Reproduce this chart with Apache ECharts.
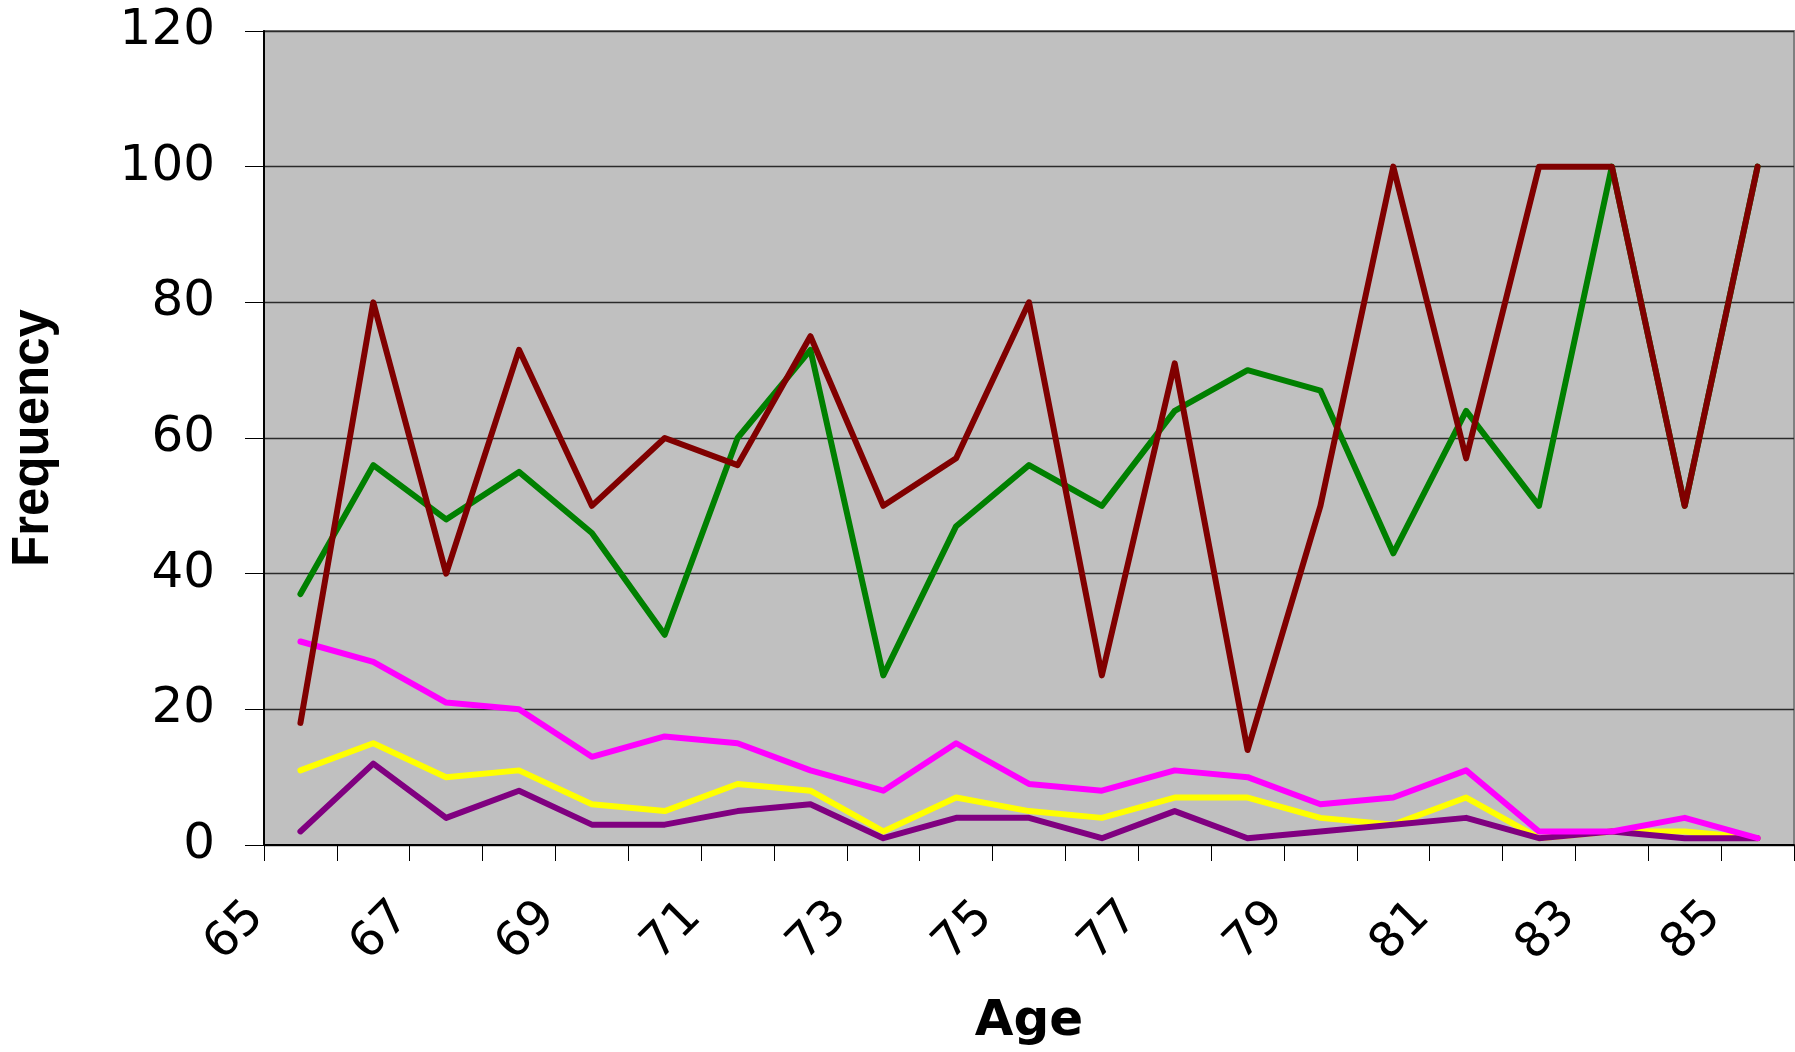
<!DOCTYPE html>
<html>
<head>
<meta charset="utf-8">
<script src="https://cdn.jsdelivr.net/npm/echarts@6/dist/echarts.min.js"></script>
<style>
html,body{margin:0;padding:0;background:#fff;}
#chart{width:1795px;height:1052px;}
</style>
</head>
<body>
<div id="chart"></div>
<script>
const ages = ['65','66','67','68','69','70','71','72','73','74','75','76','77','78','79','80','81','82','83','84','85'];
const yTicks = [0, 20, 40, 60, 80, 100, 120];
const seriesYellow  = [11,15,10,11,6,5,9,8,2,7,5,4,7,7,4,3,7,1,2,2,1];
const seriesPurple  = [2,12,4,8,3,3,5,6,1,4,4,1,5,1,2,3,4,1,2,1,1];
const seriesMagenta = [30,27,21,20,13,16,15,11,8,15,9,8,11,10,6,7,11,2,2,4,1];
const seriesGreen   = [37,56,48,55,46,31,60,73,25,47,56,50,64,70,67,43,64,50,100,50,100];
const seriesRed     = [18,80,40,73,50,60,56,75,50,57,80,25,71,14,50,100,57,100,100,50,100];

const chart = echarts.init(document.getElementById('chart'), null, {renderer: 'canvas'});

function line(name, data, color) {
  return {
    name: name, type: 'line', data: data,
    symbol: 'none', showSymbol: false, animation: false,
    lineStyle: {color: color, width: 6, cap: 'round', join: 'round'},
    itemStyle: {color: color}
  };
}

chart.setOption({
  animation: false,
  backgroundColor: '#ffffff',
  grid: {
    left: 264, right: 1, top: 31, bottom: 205,
    show: true, backgroundColor: '#C0C0C0', borderColor: '#808080', borderWidth: 2
  },
  xAxis: {
    type: 'category',
    data: ages,
    boundaryGap: true,
    name: 'Age',
    nameLocation: 'middle',
    nameGap: 152,
    nameTextStyle: {fontFamily: 'DejaVu Sans', fontWeight: 'bold', fontSize: 50, color: '#000'},
    axisLine: {show: true, lineStyle: {color: '#000', width: 2}},
    axisTick: {show: true, length: 16, lineStyle: {color: '#000', width: 1}, interval: 0},
    axisLabel: {
      interval: 1, rotate: 45, margin: 21,
      padding: [0, 62, 0, 0],
      fontFamily: 'DejaVu Sans', fontSize: 48, color: '#000'
    },
    splitLine: {show: false}
  },
  yAxis: {
    type: 'value',
    min: yTicks[0], max: yTicks[yTicks.length - 1], interval: 20,
    name: 'Frequency',
    nameLocation: 'middle',
    nameGap: 205,
    nameRotate: 90,
    nameTextStyle: {fontFamily: 'Liberation Sans', fontWeight: 'bold', fontSize: 51, color: '#000'},
    axisLine: {show: true, lineStyle: {color: '#000', width: 2}},
    axisTick: {show: true, length: 19, lineStyle: {color: '#000', width: 1}},
    axisLabel: {margin: 49, fontFamily: 'DejaVu Sans', fontSize: 50, color: '#000'},
    splitLine: {show: true, lineStyle: {color: '#2a2a2a', width: 1.4}}
  },
  series: [
    line('Yellow', seriesYellow, '#FFFF00'),
    line('Purple', seriesPurple, '#800080'),
    line('Magenta', seriesMagenta, '#FF00FF'),
    line('Green', seriesGreen, '#008000'),
    line('Red', seriesRed, '#800000')
  ]
});
</script>
</body>
</html>
